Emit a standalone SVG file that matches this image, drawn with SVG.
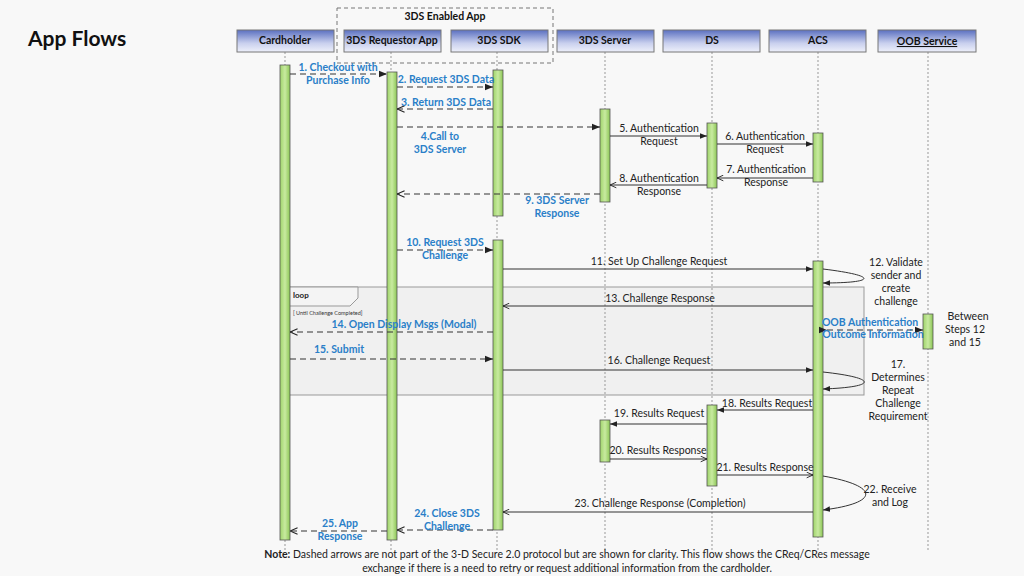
<svg xmlns="http://www.w3.org/2000/svg" width="1024" height="576" viewBox="0 0 1024 576">
<defs>
<linearGradient id="hg" x1="0" y1="0" x2="0" y2="1"><stop offset="0" stop-color="#5a6fc0"/><stop offset="0.6" stop-color="#c9d0ee"/><stop offset="1" stop-color="#eef0fa"/></linearGradient>
<linearGradient id="ag" x1="0" y1="0" x2="1" y2="0"><stop offset="0" stop-color="#9fd46a"/><stop offset="0.5" stop-color="#c8eaa0"/><stop offset="1" stop-color="#8cc655"/></linearGradient>
<marker id="f" viewBox="0 0 10 10" refX="10" refY="5" markerWidth="7" markerHeight="7" orient="auto"><path d="M0,1 L10,5 L0,9 z" fill="#222"/></marker>
<marker id="o" viewBox="0 0 10 10" refX="10" refY="5" markerWidth="7" markerHeight="7" orient="auto"><path d="M1,1 L10,5 L1,9" fill="none" stroke="#222" stroke-width="1.3"/></marker>
</defs>
<style>
.h{fill:url(#hg);stroke:#777;stroke-width:1}
.ht{font:bold 10.5px Lato,"Liberation Sans",sans-serif;text-anchor:middle;fill:#111}
.ll{stroke:#999;stroke-width:1;stroke-dasharray:2,2}
.a{fill:url(#ag);stroke:#555;stroke-width:0.8}
.s{stroke:#333;stroke-width:1;fill:none}
.d{stroke:#333;stroke-width:1.2;fill:none;stroke-dasharray:6,4}
.t{font:10.5px Lato,"Liberation Sans",sans-serif;fill:#222;text-anchor:middle}
.b{font:bold 10.5px Lato,"Liberation Sans",sans-serif;fill:#2a7fc8;text-anchor:middle}
</style>
<rect width="1024" height="576" fill="#f8f8f8"/>
<text x="28" y="46" font-family="Lato,Liberation Sans,sans-serif" font-weight="bold" font-size="21" fill="#111">App Flows</text>
<rect x="337" y="8" width="216" height="55" fill="none" stroke="#777" stroke-dasharray="4,3"/>
<text x="445" y="20" class="ht">3DS Enabled App</text>
<g id="loop">
<rect x="289" y="287" width="575" height="108" fill="#f0f0f0" stroke="#999"/>
<path d="M289,287 H358 V298 L350,306 H289 z" fill="#f4f4f4" stroke="#999"/>
<text x="293" y="298" font-family="Lato,Liberation Sans,sans-serif" font-weight="bold" font-size="8" fill="#222">loop</text>
<text x="293" y="315" font-family="Lato,Liberation Sans,sans-serif" font-size="5.5" fill="#333">[ Until Challenge Completed]</text>
</g>
<g id="lifelines">
<line class="ll" x1="285" y1="52" x2="285" y2="550"/>
<line class="ll" x1="391" y1="52" x2="391" y2="550"/>
<line class="ll" x1="497" y1="52" x2="497" y2="550"/>
<line class="ll" x1="605" y1="52" x2="605" y2="550"/>
<line class="ll" x1="712" y1="52" x2="712" y2="550"/>
<line class="ll" x1="818" y1="52" x2="818" y2="550"/>
<line class="ll" x1="928" y1="52" x2="928" y2="550"/>
</g>
<g id="cardholder"><rect class="h" x="237" y="30" width="97" height="22"/><text class="ht" x="285" y="44">Cardholder</text><rect class="a" x="280" y="65" width="10" height="475"/></g>
<g id="requestor"><rect class="h" x="344" y="30" width="97" height="22"/><text class="ht" x="392" y="44">3DS Requestor App</text><rect class="a" x="387" y="72" width="10" height="468"/></g>
<g id="sdk"><rect class="h" x="451" y="30" width="97" height="22"/><text class="ht" x="499" y="44">3DS SDK</text><rect class="a" x="493" y="70" width="10" height="146"/><rect class="a" x="493" y="240" width="10" height="290"/></g>
<g id="server"><rect class="h" x="557" y="30" width="97" height="22"/><text class="ht" x="605" y="44">3DS Server</text><rect class="a" x="600" y="109" width="10" height="93"/><rect class="a" x="600" y="420" width="10" height="42"/></g>
<g id="ds"><rect class="h" x="663" y="30" width="97" height="22"/><text class="ht" x="712" y="44">DS</text><rect class="a" x="707" y="123" width="10" height="65"/><rect class="a" x="707" y="405" width="10" height="81"/></g>
<g id="acs"><rect class="h" x="769" y="30" width="97" height="22"/><text class="ht" x="818" y="44">ACS</text><rect class="a" x="813" y="133" width="10" height="49"/><rect class="a" x="813" y="261" width="10" height="276"/></g>
<g id="oob"><rect class="h" x="878" y="30" width="98" height="22"/><text class="ht" x="927" y="45" font-size="12" text-decoration="underline">OOB Service</text><rect class="a" x="923" y="314" width="10" height="35"/></g>
<g id="connectors">
<line class="d" x1="290" y1="74" x2="387" y2="74" marker-end="url(#f)"/>
<line class="d" x1="397" y1="87" x2="493" y2="87" marker-end="url(#f)"/>
<line class="d" x1="493" y1="109" x2="397" y2="109" marker-end="url(#o)"/>
<line class="d" x1="397" y1="127" x2="600" y2="127" marker-end="url(#f)"/>
<line class="s" x1="610" y1="136" x2="707" y2="136" marker-end="url(#f)"/>
<line class="s" x1="717" y1="144" x2="813" y2="144" marker-end="url(#f)"/>
<line class="s" x1="813" y1="178" x2="717" y2="178" marker-end="url(#o)"/>
<line class="s" x1="707" y1="185" x2="610" y2="185" marker-end="url(#o)"/>
<line class="d" x1="600" y1="194" x2="397" y2="194" marker-end="url(#o)"/>
<line class="d" x1="397" y1="250" x2="493" y2="250" marker-end="url(#f)"/>
<line class="s" x1="503" y1="269" x2="813" y2="269" marker-end="url(#f)"/>
<path class="s" d="M823,269 C880,276 875,283 823,283" marker-end="url(#f)"/>
<line class="s" x1="813" y1="306" x2="503" y2="306" marker-end="url(#o)"/>
<line class="d" x1="493" y1="332" x2="290" y2="332" marker-end="url(#o)"/>
<line class="d" x1="827" y1="330" x2="923" y2="330" marker-start="url(#f)" marker-end="url(#f)"/>
<line class="d" x1="290" y1="359" x2="493" y2="359" marker-end="url(#f)"/>
<line class="s" x1="503" y1="370" x2="813" y2="370" marker-end="url(#f)"/>
<path class="s" d="M823,372 C878,378 878,387 823,389" marker-end="url(#f)"/>
<line class="s" x1="813" y1="410" x2="717" y2="410" marker-end="url(#f)"/>
<line class="s" x1="707" y1="424" x2="610" y2="424" marker-end="url(#f)"/>
<line class="s" x1="610" y1="459" x2="707" y2="459" marker-end="url(#o)"/>
<line class="s" x1="717" y1="475" x2="813" y2="475" marker-end="url(#o)"/>
<path class="s" d="M823,476 C880,486 880,503 823,510" marker-end="url(#f)"/>
<line class="s" x1="813" y1="512" x2="503" y2="512" marker-end="url(#o)"/>
<line class="d" x1="493" y1="530" x2="397" y2="530" marker-end="url(#o)"/>
<line class="d" x1="387" y1="531" x2="290" y2="531" marker-end="url(#o)"/>
</g>
<g id="labels">
<text class="b" x="338" y="71">1. Checkout with</text><text class="b" x="338" y="84">Purchase Info</text>
<text class="b" x="446" y="83">2. Request 3DS Data</text>
<text class="b" x="446" y="106">3. Return 3DS Data</text>
<text class="b" x="440" y="140">4.Call to</text><text class="b" x="440" y="153">3DS Server</text>
<text class="t" x="659" y="132">5. Authentication</text><text class="t" x="659" y="145">Request</text>
<text class="t" x="765" y="140">6. Authentication</text><text class="t" x="765" y="153">Request</text>
<text class="t" x="766" y="173">7. Authentication</text><text class="t" x="766" y="186">Response</text>
<text class="t" x="659" y="182">8. Authentication</text><text class="t" x="659" y="195">Response</text>
<text class="b" x="557" y="204">9. 3DS Server</text><text class="b" x="557" y="217">Response</text>
<text class="b" x="445" y="246">10. Request 3DS</text><text class="b" x="445" y="259">Challenge</text>
<text class="t" x="659" y="265">11. Set Up Challenge Request</text>
<text class="t" x="896" y="266">12. Validate</text><text class="t" x="896" y="279">sender and</text><text class="t" x="896" y="292">create</text><text class="t" x="896" y="305">challenge</text>
<text class="t" x="660" y="302">13.  Challenge Response</text>
<text class="b" x="404" y="328">14. Open Display Msgs (Modal)</text>
<text class="b" x="870" y="326" font-size="8.5">OOB Authentication</text><text class="b" x="873" y="338" font-size="8.5">Outcome Information</text>
<text class="t" x="968" y="320">Between</text><text class="t" x="965" y="333">Steps 12</text><text class="t" x="965" y="346">and 15</text>
<text class="b" x="339" y="353">15. Submit</text>
<text class="t" x="659" y="364">16. Challenge Request</text>
<text class="t" x="898" y="368">17.</text><text class="t" x="898" y="381">Determines</text><text class="t" x="898" y="394">Repeat</text><text class="t" x="898" y="407">Challenge</text><text class="t" x="898" y="420">Requirement</text>
<text class="t" x="767" y="407">18. Results Request</text>
<text class="t" x="659" y="417">19. Results Request</text>
<text class="t" x="658" y="454">20. Results Response</text>
<text class="t" x="765" y="471">21. Results Response</text>
<text class="t" x="890" y="493">22. Receive</text><text class="t" x="890" y="506">and Log</text>
<text class="t" x="660" y="507">23. Challenge Response (Completion)</text>
<text class="b" x="447" y="517">24. Close 3DS</text><text class="b" x="447" y="530">Challenge</text>
<text class="b" x="340" y="527">25. App</text><text class="b" x="340" y="540">Response</text>
<text class="t" x="567" y="558"><tspan font-weight="bold">Note:</tspan> Dashed arrows are not part of the 3-D Secure 2.0  protocol but are shown for clarity. This flow shows the CReq/CRes message</text>
<text class="t" x="567" y="572">exchange if there is a need to retry or request additional information from the cardholder.</text>
</g>
</svg>
